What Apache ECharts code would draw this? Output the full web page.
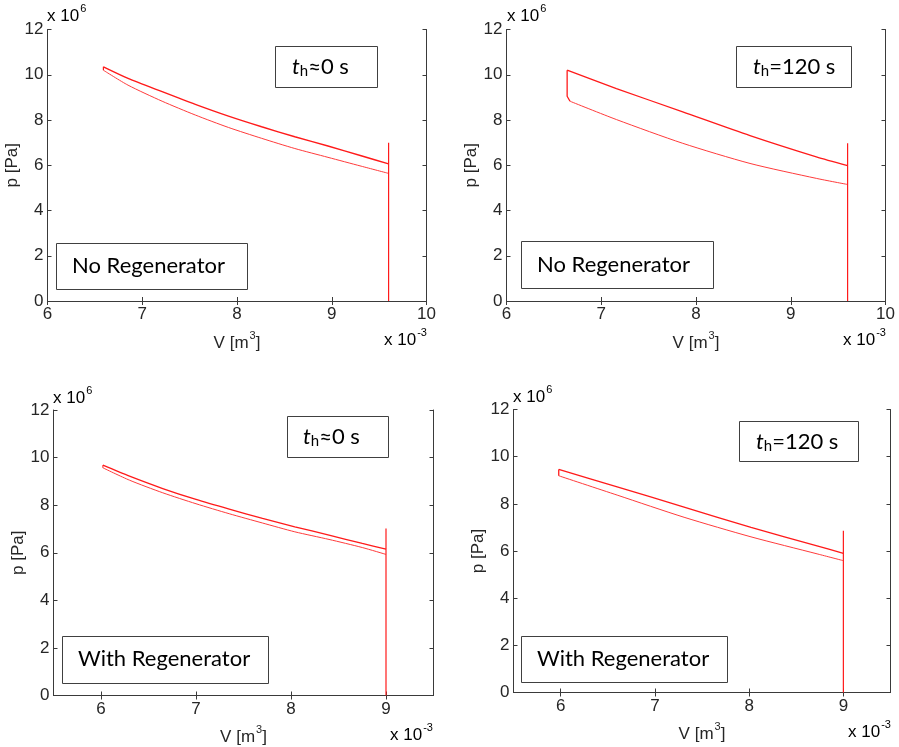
<!DOCTYPE html>
<html>
<head>
<meta charset="utf-8">
<script src="https://cdn.jsdelivr.net/npm/echarts@6/dist/echarts.min.js"></script>
<style>
  html, body { margin: 0; padding: 0; background: #fff; }
  #main { width: 899px; height: 747px; }
</style>
</head>
<body>
<div id="main"></div>
<script>
// V in 10^-3 m^3, p in 10^6 Pa

// top-left: no regenerator, t_h ~ 0 s
const noRegT0Upper = [[6.59, 10.35], [6.85, 9.84], [7.21, 9.25], [7.56, 8.69], [7.91, 8.17], [8.26, 7.70], [8.61, 7.26], [8.96, 6.85], [9.31, 6.42], [9.6, 6.06]];
const noRegT0Lower = [[6.59, 10.20], [6.85, 9.54], [7.21, 8.83], [7.56, 8.22], [7.91, 7.67], [8.26, 7.19], [8.61, 6.74], [8.96, 6.35], [9.31, 5.96], [9.6, 5.64]];
const noRegT0Spike = [[9.6, 0], [9.6, 7.0]];

// top-right: no regenerator, t_h = 120 s
const noRegT120Upper = [[6.64, 10.20], [7.16, 9.39], [7.86, 8.36], [8.57, 7.31], [9.27, 6.37], [9.6, 5.98]];
const noRegT120Lower = [[6.67, 8.83], [7.16, 8.02], [7.86, 6.97], [8.57, 6.08], [9.27, 5.42], [9.6, 5.15]];
const noRegT120Left = [[6.64, 10.20], [6.64, 9.05], [6.67, 8.83]];
const noRegT120Spike = [[9.6, 0], [9.6, 6.97]];

// bottom-left: with regenerator, t_h ~ 0 s
const regT0Upper = [[6.02, 9.68], [6.30, 9.22], [6.65, 8.70], [7.00, 8.24], [7.35, 7.83], [7.70, 7.44], [8.04, 7.09], [8.40, 6.74], [8.75, 6.39], [9.0, 6.15]];
const regT0Lower = [[6.02, 9.57], [6.30, 9.05], [6.65, 8.52], [7.00, 8.06], [7.35, 7.64], [7.70, 7.25], [8.04, 6.88], [8.40, 6.56], [8.75, 6.22], [9.0, 5.93]];
const regT0Spike = [[9.0, 0], [9.0, 7.02]];

// bottom-right: with regenerator, t_h = 120 s
const regT120Upper = [[5.98, 9.46], [6.60, 8.72], [7.31, 7.86], [8.02, 7.00], [8.73, 6.21], [9.0, 5.90]];
const regT120Lower = [[5.98, 9.19], [6.60, 8.37], [7.31, 7.43], [8.02, 6.60], [8.73, 5.87], [9.0, 5.59]];
const regT120Left = [[5.98, 9.46], [5.98, 9.19]];
const regT120Spike = [[9.0, 0], [9.0, 6.86]];

const xTicksTop = [6, 7, 8, 9, 10];
const xTicksBottom = [6, 7, 8, 9];
const yTicks = [0, 2, 4, 6, 8, 10, 12];

const RED = '#ff1a1a';
const RED_LIGHT = '#ff3b3b';
const TXT = '#262626';
const AXC = '#3a3a3a';
const AXFONT = '"Liberation Sans", Arial, sans-serif';
const BOXFONT = 'Lato, sans-serif';

const grids = [
  { left: 47.5, right: 472.5, top: 29.5, bottom: 446 },
  { left: 506.5, right: 13.5, top: 29.5, bottom: 446 },
  { left: 53.5, right: 465.5, top: 410, bottom: 51.5 },
  { left: 513.5, right: 8.5, top: 409.5, bottom: 54.5 }
];
const xRanges = [[6, 10, xTicksTop], [6, 10, xTicksTop], [5.5, 9.5, xTicksBottom], [5.5, 9.5, xTicksBottom]];

const supRich = {
  sup: { fontSize: 11, fontFamily: AXFONT, color: TXT, verticalAlign: 'top', lineHeight: 12, padding: [0, 0, 0, 1] },
  n: { fontSize: 17, fontFamily: AXFONT, color: TXT, lineHeight: 26 }
};

const xAxes = [];
const yAxes = [];
xRanges.forEach((r, i) => {
  xAxes.push({
    gridIndex: i, type: 'value', position: 'bottom', min: r[0], max: r[1],
    name: '{n|V [m}{sup|3}{n|]}', nameLocation: 'middle', nameGap: 29,
    nameTextStyle: { rich: supRich },
    axisLine: { show: true, lineStyle: { color: AXC, width: 1 } },
    axisTick: { show: true, inside: true, length: 4, lineStyle: { color: AXC }, customValues: r[2] },
    axisLabel: { show: true, color: TXT, fontSize: 17, fontFamily: AXFONT, margin: 5, customValues: r[2] },
    splitLine: { show: false }
  });
});
xRanges.forEach((r, i) => {
  xAxes.push({
    gridIndex: i, type: 'value', position: 'top', min: r[0], max: r[1],
    axisLine: { show: true, lineStyle: { color: AXC, width: 1 } },
    axisTick: { show: true, inside: true, length: 4, lineStyle: { color: AXC }, customValues: r[2] },
    axisLabel: { show: false },
    splitLine: { show: false }
  });
});
for (let i = 0; i < 4; i++) {
  yAxes.push({
    gridIndex: i, type: 'value', position: 'left', min: 0, max: 12,
    name: 'p [Pa]', nameLocation: 'middle', nameGap: 21,
    nameTextStyle: { color: TXT, fontSize: 17, fontFamily: AXFONT },
    axisLine: { show: true, lineStyle: { color: AXC, width: 1 } },
    axisTick: { show: true, inside: true, length: 4, lineStyle: { color: AXC }, customValues: yTicks },
    axisLabel: { show: true, color: TXT, fontSize: 17, fontFamily: AXFONT, margin: 4, customValues: yTicks },
    splitLine: { show: false }
  });
}
for (let i = 0; i < 4; i++) {
  yAxes.push({
    gridIndex: i, type: 'value', position: 'right', min: 0, max: 12,
    axisLine: { show: true, lineStyle: { color: AXC, width: 1 } },
    axisTick: { show: true, inside: true, length: 4, lineStyle: { color: AXC }, customValues: yTicks },
    axisLabel: { show: false },
    splitLine: { show: false }
  });
}

function line(data, idx, width, color, smooth) {
  return {
    type: 'line', xAxisIndex: idx, yAxisIndex: idx, data: data,
    showSymbol: false, smooth: smooth ? 0.25 : false, animation: false,
    lineStyle: { color: color, width: width }
  };
}

const series = [
  line(noRegT0Upper, 0, 1.4, RED, true), line(noRegT0Lower, 0, 1, RED_LIGHT, true),
  line([noRegT0Upper[0], noRegT0Lower[0]], 0, 1.2, RED, false), line(noRegT0Spike, 0, 1.2, RED, false),
  line(noRegT120Upper, 1, 1.3, RED, true), line(noRegT120Lower, 1, 1, RED_LIGHT, true),
  line(noRegT120Left, 1, 1.3, RED, false), line(noRegT120Spike, 1, 1.2, RED, false),
  line(regT0Upper, 2, 1.3, RED, true), line(regT0Lower, 2, 1, RED_LIGHT, true),
  line([regT0Upper[0], regT0Lower[0]], 2, 1, RED, false), line(regT0Spike, 2, 1.2, RED, false),
  line(regT120Upper, 3, 1.3, RED, true), line(regT120Lower, 3, 1, RED_LIGHT, true),
  line(regT120Left, 3, 1.3, RED, false), line(regT120Spike, 3, 1.2, RED, false)
];

// scale multipliers and annotation boxes
function expText(x, y, exp) {
  return {
    type: 'text', x: x, y: y, z: 10,
    style: {
      text: '{n|x 10}{sup|' + exp + '}', rich: supRich, verticalAlign: 'middle'
    }
  };
}
function box(x, y, w, h) {
  return {
    type: 'rect', z: 10,
    shape: { x: Math.round(x) + 0.5, y: Math.round(y) + 0.5, width: Math.round(w), height: Math.round(h) },
    style: { fill: '#fff', stroke: '#404040', lineWidth: 1 }
  };
}
const boxRich = {
  t: { fontSize: 22, fontFamily: BOXFONT, fontStyle: 'italic', color: '#1a1a1a' },
  h: { fontSize: 15, fontFamily: BOXFONT, color: '#1a1a1a', verticalAlign: 'bottom', padding: [8, 0, 0, 0] },
  m: { fontSize: 22, fontFamily: BOXFONT, color: '#1a1a1a' }
};
function boxText(x, y, txt) {
  return {
    type: 'text', x: x, y: y, z: 11,
    style: { text: txt, rich: boxRich, verticalAlign: 'middle' }
  };
}

const graphic = [
  expText(47, 16, '6'), expText(507, 16, '6'), expText(53, 398, '6'), expText(513, 397, '6'),
  expText(384, 340, '-3'), expText(843, 340, '-3'), expText(390, 735, '-3'), expText(848, 732, '-3'),

  box(275, 46, 102, 41), boxText(292, 67, '{t|t}{h|h}{m|≈0 s}'),
  box(56, 243, 191, 46), boxText(72, 266, '{m|No Regenerator}'),

  box(736, 46, 115, 41), boxText(753, 67, '{t|t}{h|h}{m|=120 s}'),
  box(521, 241, 192, 47), boxText(537, 265, '{m|No Regenerator}'),

  box(287, 416, 101, 41), boxText(303, 437, '{t|t}{h|h}{m|≈0 s}'),
  box(62, 636, 206, 47), boxText(78, 659, '{m|With Regenerator}'),

  box(739, 421, 119, 40), boxText(756, 442, '{t|t}{h|h}{m|=120 s}'),
  box(521, 636, 206, 46), boxText(537, 659, '{m|With Regenerator}')
];

const chart = echarts.init(document.getElementById('main'), null, { renderer: 'canvas' });
chart.setOption({
  animation: false,
  backgroundColor: '#fff',
  grid: grids,
  xAxis: xAxes,
  yAxis: yAxes,
  series: series,
  graphic: graphic
});
</script>
</body>
</html>
